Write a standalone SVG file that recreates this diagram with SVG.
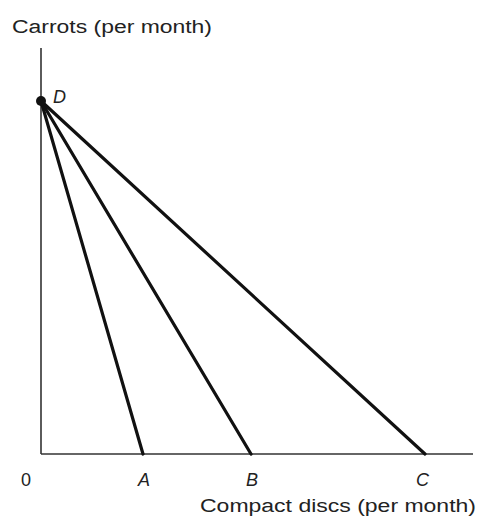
<svg xmlns="http://www.w3.org/2000/svg" width="478" height="527" viewBox="0 0 478 527">
<style>
.axis{stroke:#333;stroke-width:1.6;fill:none}
.line{stroke:#111;stroke-width:3.2;fill:none;stroke-linecap:round}
text{font-family:"Liberation Sans",Arial,sans-serif;font-size:18px;fill:#222}
.it{font-style:italic}
</style>
<rect width="478" height="527" fill="#fff"/>
<g id="axes">
<line class="axis" x1="41" y1="48" x2="41" y2="454"/>
<line class="axis" x1="41" y1="454" x2="473" y2="454"/>
</g>
<g id="connectors">
<line class="line" x1="41" y1="101" x2="143" y2="454"/>
<line class="line" x1="41" y1="101" x2="251" y2="454"/>
<line class="line" x1="41" y1="101" x2="425" y2="454"/>
</g>
<g id="D"><circle cx="41" cy="101" r="5" fill="#111"/><text class="it" x="53" y="103">D</text></g>
<g id="labels">
<text x="12" y="33" textLength="200" lengthAdjust="spacingAndGlyphs">Carrots (per month)</text>
<text x="21" y="486">0</text>
<text class="it" x="138" y="486">A</text>
<text class="it" x="246" y="486">B</text>
<text class="it" x="416" y="486">C</text>
<text x="200" y="512" textLength="276" lengthAdjust="spacingAndGlyphs">Compact discs (per month)</text>
</g>
</svg>
